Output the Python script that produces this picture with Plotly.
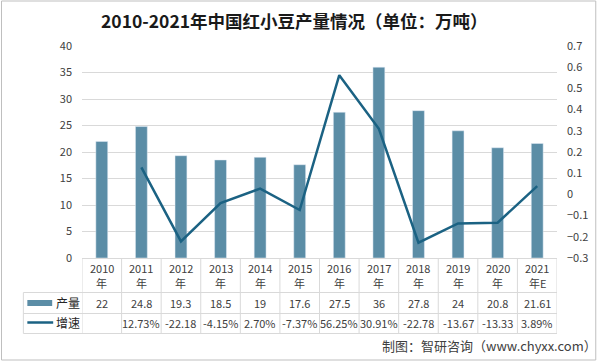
import plotly.graph_objects as go

years = ["2010", "2011", "2012", "2013", "2014", "2015", "2016", "2017", "2018", "2019", "2020", "2021"]
year_suffix = ["年", "年", "年", "年", "年", "年", "年", "年", "年", "年", "年", "年E"]
production = [22, 24.8, 19.3, 18.5, 19, 17.6, 27.5, 36, 27.8, 24, 20.8, 21.61]
production_labels = ["22", "24.8", "19.3", "18.5", "19", "17.6", "27.5", "36", "27.8", "24", "20.8", "21.61"]
growth = [None, 0.1273, -0.2218, -0.0415, 0.0270, -0.0737, 0.5625, 0.3091, -0.2278, -0.1367, -0.1333, 0.0389]
growth_labels = ["", "12.73%", "-22.18", "-4.15%", "2.70%", "-7.37%", "56.25%", "30.91%", "-22.78", "-13.67", "-13.33", "3.89%"]
left_ticks = [0, 5, 10, 15, 20, 25, 30, 35, 40]
right_ticks = [-0.3, -0.2, -0.1, 0, 0.1, 0.2, 0.3, 0.4, 0.5, 0.6, 0.7]

cats = [y + s for y, s in zip(years, year_suffix)]

W, H = 600, 361
L, R, T, B = 82, 40, 46, 103
PW, PH = W - L - R, H - T - B

def px(X):
    return (X - L) / PW

def py(Y):
    return (H - B - Y) / PH

FONT = "Noto Sans CJK SC, Noto Sans, sans-serif"
TXT = "#404040"
GRID = "#D9D9D9"
BAR = "#5B8DA6"
LINE = "#1B6283"

fig = go.Figure()
fig.add_trace(go.Bar(x=cats, y=production, name="产量", marker_color=BAR, width=0.3))
fig.add_trace(go.Scatter(x=cats, y=growth, name="增速", mode="lines", yaxis="y2",
                         line=dict(color=LINE, width=2.5), connectgaps=False))

shapes = []
# outer border
shapes.append(dict(type="rect", xref="paper", yref="paper", x0=px(1), x1=px(599), y0=py(360), y1=py(1),
                   line=dict(color="#BFBFBF", width=1), layer="below"))
# table horizontal lines
shapes.append(dict(type="line", xref="paper", yref="paper", x0=0, x1=1, y0=py(258.5), y1=py(258.5), line=dict(color=GRID, width=1)))
for Y in [292.5, 313.5, 333.5]:
    shapes.append(dict(type="line", xref="paper", yref="paper", x0=px(23), x1=1, y0=py(Y), y1=py(Y), line=dict(color=GRID, width=1)))
# table vertical lines
for i in range(len(cats) + 1):
    shapes.append(dict(type="line", xref="x", yref="paper", x0=i - 0.5, x1=i - 0.5, y0=py(258.5), y1=py(333.5),
                       line=dict(color=GRID, width=1)))
shapes.append(dict(type="line", xref="paper", yref="paper", x0=px(23), x1=px(23), y0=py(292.5), y1=py(333.5),
                   line=dict(color=GRID, width=1)))
# legend swatches
shapes.append(dict(type="rect", xref="paper", yref="paper", x0=px(27), x1=px(52), y0=py(306), y1=py(300),
                   fillcolor=BAR, line=dict(width=0)))
shapes.append(dict(type="line", xref="paper", yref="paper", x0=px(27), x1=px(53), y0=py(322.5), y1=py(322.5),
                   line=dict(color=LINE, width=2.5)))

annotations = []
for c, yr, sf, pl, gl in zip(cats, years, year_suffix, production_labels, growth_labels):
    annotations.append(dict(x=c, xref="x", y=py(268), yref="paper", text=yr, showarrow=False,
                            font=dict(size=11, color=TXT, family=FONT), yanchor="middle", xanchor="center"))
    annotations.append(dict(x=c, xref="x", y=py(283), yref="paper", text=sf, showarrow=False,
                            font=dict(size=11, color=TXT, family=FONT), yanchor="middle", xanchor="center"))
    annotations.append(dict(x=c, xref="x", y=py(302.5), yref="paper", text=pl, showarrow=False,
                            font=dict(size=11, color=TXT, family=FONT), yanchor="middle", xanchor="center"))
    if gl:
        annotations.append(dict(x=c, xref="x", y=py(323), yref="paper", text=gl, showarrow=False,
                                font=dict(size=11, color=TXT, family=FONT), yanchor="middle", xanchor="center"))
annotations.append(dict(x=px(54), xref="paper", y=py(302.5), yref="paper", text="产量", showarrow=False,
                        font=dict(size=12, color="#262626", family=FONT), xanchor="left", yanchor="middle"))
annotations.append(dict(x=px(54), xref="paper", y=py(322.5), yref="paper", text="增速", showarrow=False,
                        font=dict(size=12, color="#262626", family=FONT), xanchor="left", yanchor="middle"))
annotations.append(dict(x=px(296), xref="paper", y=py(21), yref="paper",
                        text="<b>2010-2021年中国红小豆产量情况（单位：万吨）</b>", showarrow=False,
                        font=dict(size=17.5, color="#1a1a1a", family=FONT), xanchor="center", yanchor="middle"))
annotations.append(dict(x=px(382), xref="paper", y=py(345), yref="paper",
                        text="制图：智研咨询（www.chyxx.com）", showarrow=False,
                        font=dict(size=13, color=TXT, family=FONT), xanchor="left", yanchor="middle"))

fig.update_layout(
    width=W, height=H,
    margin=dict(l=L, r=R, t=T, b=B),
    paper_bgcolor="white", plot_bgcolor="white",
    showlegend=False,
    font=dict(family=FONT, color=TXT, size=11),
    xaxis=dict(type="category", categoryorder="array", categoryarray=cats, showticklabels=False,
               showgrid=False, zeroline=False, showline=False, range=[-0.5, len(cats) - 0.5]),
    yaxis=dict(range=[0, 40], tickvals=left_ticks, showgrid=True, gridcolor=GRID, gridwidth=1,
               zeroline=False, showline=False, ticks="", ticklabelstandoff=9,
               tickfont=dict(size=11, color=TXT, family=FONT)),
    yaxis2=dict(range=[-0.3, 0.7], tickvals=right_ticks, overlaying="y", side="right", showgrid=False,
                zeroline=False, showline=False, ticks="", ticklabelstandoff=9,
                tickfont=dict(size=11, color=TXT, family=FONT)),
    shapes=shapes,
    annotations=annotations,
)

fig.write_html("out.html", config={"displayModeBar": False},
               post_script="document.body.style.margin='0';document.body.style.overflow='hidden';")
